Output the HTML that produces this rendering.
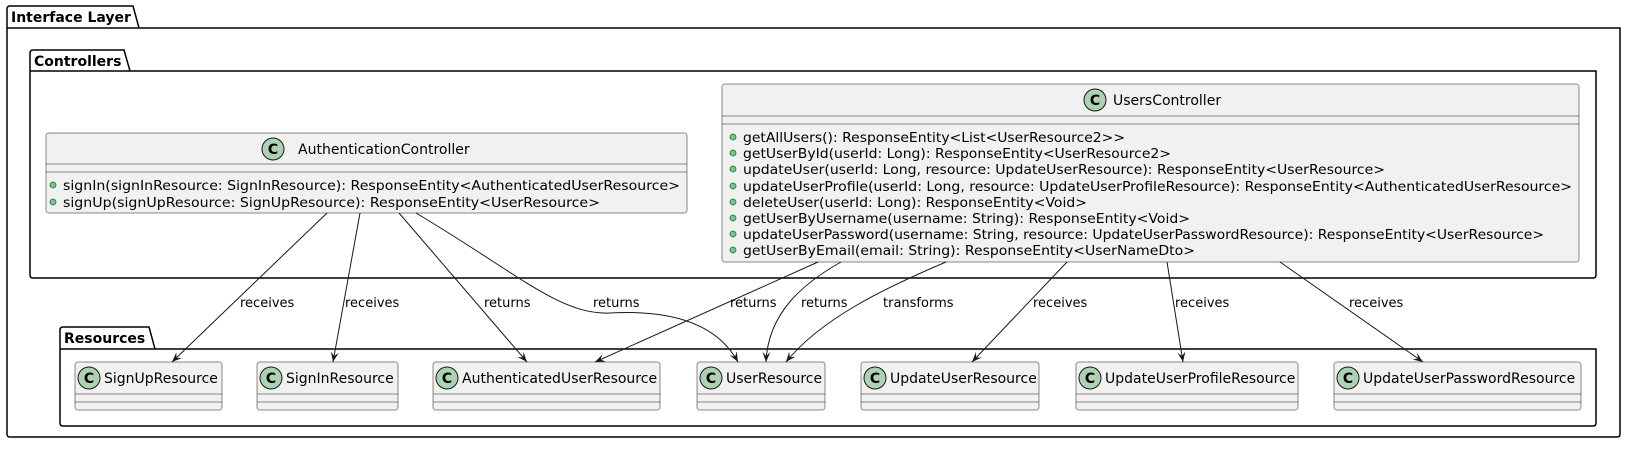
<!DOCTYPE html>
<html><head><meta charset="utf-8"><style>
html,body{margin:0;padding:0;background:#fff;}
svg{display:block;}
text{font-family:"DejaVu Sans","Liberation Sans",sans-serif;fill:#000;}
.t{font-weight:bold;font-size:14px;}
.m{font-size:13.5px;}
.n{font-size:14px;}
.l{font-size:13px;}
.box{fill:#f1f1f1;stroke:#181818;stroke-width:0.5;}
.pk{fill:none;stroke:#000;stroke-width:1.5;}
.ar{fill:none;stroke:#181818;stroke-width:1;}
.ic{fill:#add1b2;stroke:#181818;stroke-width:1;}
.dv{stroke:#181818;stroke-width:0.5;}
.dot{fill:#84be84;stroke:#038048;stroke-width:0.8;}
</style></head><body>
<svg width="1626" height="456" viewBox="0 0 1626 456" xmlns="http://www.w3.org/2000/svg">
<defs>
<marker id="a" viewBox="0 0 10 8" refX="10" refY="4" markerWidth="10" markerHeight="8" markerUnits="userSpaceOnUse" orient="auto">
<path d="M0,0 L10,4 L0,8 L4,4 z" fill="#181818"/>
</marker>
</defs>

<path class="pk" d="M7,28 L7,9 Q7,6 10,6 L133,6 L139,28 L1620,28 L1620,434 Q1620,437 1617,437 L10,437 Q7,437 7,434 Z"/>
<line class="pk" x1="7" y1="28" x2="139" y2="28"/>
<text class="t" x="11" y="22">Interface Layer</text>

<path class="pk" d="M30,71 L30,53 Q30,50 33,50 L124,50 L130,71 L1596,71 L1596,275 Q1596,278 1593,278 L33,278 Q30,278 30,275 Z"/>
<line class="pk" x1="30" y1="71" x2="130" y2="71"/>
<text class="t" x="34" y="66">Controllers</text>

<path class="pk" d="M60,349 L60,330 Q60,327 63,327 L149,327 L155,349 L1596,349 L1596,423 Q1596,426 1593,426 L63,426 Q60,426 60,423 Z"/>
<line class="pk" x1="60" y1="349" x2="155" y2="349"/>
<text class="t" x="64" y="343">Resources</text>

<rect class="box" x="46" y="133" width="641" height="80" rx="2.5"/>
<line class="dv" x1="46" y1="164" x2="687" y2="164"/>
<line class="dv" x1="46" y1="172" x2="687" y2="172"/>
<circle class="ic" cx="273" cy="149" r="11"/>
<text x="273" y="154" text-anchor="middle" style="font-weight:bold;font-size:14px">C</text>
<text class="n" x="298" y="154">AuthenticationController</text>
<circle class="dot" cx="53" cy="185" r="3"/>
<text class="m" x="63" y="190" textLength="617" lengthAdjust="spacingAndGlyphs">signIn(signInResource: SignInResource): ResponseEntity&lt;AuthenticatedUserResource&gt;</text>
<circle class="dot" cx="53" cy="202" r="3"/>
<text class="m" x="63" y="207" textLength="537" lengthAdjust="spacingAndGlyphs">signUp(signUpResource: SignUpResource): ResponseEntity&lt;UserResource&gt;</text>

<rect class="box" x="722" y="84" width="857" height="178" rx="2.5"/>
<line class="dv" x1="722" y1="116" x2="1579" y2="116"/>
<line class="dv" x1="722" y1="124" x2="1579" y2="124"/>
<circle class="ic" cx="1095" cy="100" r="11"/>
<text x="1095" y="105" text-anchor="middle" style="font-weight:bold;font-size:14px">C</text>
<text class="n" x="1113" y="105">UsersController</text>
<g>
<circle class="dot" cx="733" cy="137" r="3"/>
<text class="m" x="743" y="142" textLength="382" lengthAdjust="spacingAndGlyphs">getAllUsers(): ResponseEntity&lt;List&lt;UserResource2&gt;&gt;</text>
<circle class="dot" cx="733" cy="153" r="3"/>
<text class="m" x="743" y="158" textLength="428" lengthAdjust="spacingAndGlyphs">getUserById(userId: Long): ResponseEntity&lt;UserResource2&gt;</text>
<circle class="dot" cx="733" cy="169" r="3"/>
<text class="m" x="743" y="174" textLength="642" lengthAdjust="spacingAndGlyphs">updateUser(userId: Long, resource: UpdateUserResource): ResponseEntity&lt;UserResource&gt;</text>
<circle class="dot" cx="733" cy="186" r="3"/>
<text class="m" x="743" y="191" textLength="829" lengthAdjust="spacingAndGlyphs">updateUserProfile(userId: Long, resource: UpdateUserProfileResource): ResponseEntity&lt;AuthenticatedUserResource&gt;</text>
<circle class="dot" cx="733" cy="202" r="3"/>
<text class="m" x="743" y="207" textLength="344" lengthAdjust="spacingAndGlyphs">deleteUser(userId: Long): ResponseEntity&lt;Void&gt;</text>
<circle class="dot" cx="733" cy="218" r="3"/>
<text class="m" x="743" y="223" textLength="447" lengthAdjust="spacingAndGlyphs">getUserByUsername(username: String): ResponseEntity&lt;Void&gt;</text>
<circle class="dot" cx="733" cy="234" r="3"/>
<text class="m" x="743" y="239" textLength="801" lengthAdjust="spacingAndGlyphs">updateUserPassword(username: String, resource: UpdateUserPasswordResource): ResponseEntity&lt;UserResource&gt;</text>
<circle class="dot" cx="733" cy="250" r="3"/>
<text class="m" x="743" y="255" textLength="452" lengthAdjust="spacingAndGlyphs">getUserByEmail(email: String): ResponseEntity&lt;UserNameDto&gt;</text>
</g>

<g>
<rect class="box" x="75" y="362" width="147" height="48" rx="2.5"/><line class="dv" x1="75" y1="394" x2="222" y2="394"/><line class="dv" x1="75" y1="402" x2="222" y2="402"/>
<circle class="ic" cx="89" cy="378" r="11"/><text x="89" y="383" text-anchor="middle" style="font-weight:bold;font-size:14px">C</text>
<text class="n" x="104" y="383">SignUpResource</text>

<rect class="box" x="257" y="362" width="141" height="48" rx="2.5"/><line class="dv" x1="257" y1="394" x2="398" y2="394"/><line class="dv" x1="257" y1="402" x2="398" y2="402"/>
<circle class="ic" cx="271" cy="378" r="11"/><text x="271" y="383" text-anchor="middle" style="font-weight:bold;font-size:14px">C</text>
<text class="n" x="286" y="383">SignInResource</text>

<rect class="box" x="433" y="362" width="227" height="48" rx="2.5"/><line class="dv" x1="433" y1="394" x2="660" y2="394"/><line class="dv" x1="433" y1="402" x2="660" y2="402"/>
<circle class="ic" cx="447" cy="378" r="11"/><text x="447" y="383" text-anchor="middle" style="font-weight:bold;font-size:14px">C</text>
<text class="n" x="462" y="383">AuthenticatedUserResource</text>

<rect class="box" x="697" y="362" width="128" height="48" rx="2.5"/><line class="dv" x1="697" y1="394" x2="825" y2="394"/><line class="dv" x1="697" y1="402" x2="825" y2="402"/>
<circle class="ic" cx="711" cy="378" r="11"/><text x="711" y="383" text-anchor="middle" style="font-weight:bold;font-size:14px">C</text>
<text class="n" x="726" y="383">UserResource</text>

<rect class="box" x="861" y="362" width="178" height="48" rx="2.5"/><line class="dv" x1="861" y1="394" x2="1039" y2="394"/><line class="dv" x1="861" y1="402" x2="1039" y2="402"/>
<circle class="ic" cx="875" cy="378" r="11"/><text x="875" y="383" text-anchor="middle" style="font-weight:bold;font-size:14px">C</text>
<text class="n" x="890" y="383">UpdateUserResource</text>

<rect class="box" x="1076" y="362" width="222" height="48" rx="2.5"/><line class="dv" x1="1076" y1="394" x2="1298" y2="394"/><line class="dv" x1="1076" y1="402" x2="1298" y2="402"/>
<circle class="ic" cx="1090" cy="378" r="11"/><text x="1090" y="383" text-anchor="middle" style="font-weight:bold;font-size:14px">C</text>
<text class="n" x="1105" y="383">UpdateUserProfileResource</text>

<rect class="box" x="1334" y="362" width="247" height="48" rx="2.5"/><line class="dv" x1="1334" y1="394" x2="1581" y2="394"/><line class="dv" x1="1334" y1="402" x2="1581" y2="402"/>
<circle class="ic" cx="1348" cy="378" r="11"/><text x="1348" y="383" text-anchor="middle" style="font-weight:bold;font-size:14px">C</text>
<text class="n" x="1363" y="383">UpdateUserPasswordResource</text>
</g>

<g marker-end="url(#a)">
<path class="ar" d="M327,213 L172,362"/>
<path class="ar" d="M360,213 L333,362"/>
<path class="ar" d="M399,213 L527,362"/>
<path class="ar" d="M416,213 C520,275 560,315 610,313 C665,310 715,320 738,362"/>
<path class="ar" d="M818,262 L595,362"/>
<path class="ar" d="M841,262 C800,285 768,315 766,362"/>
<path class="ar" d="M946,262 C880,290 820,320 786,362"/>
<path class="ar" d="M1067,262 L972,362"/>
<path class="ar" d="M1167,262 L1183,362"/>
<path class="ar" d="M1280,262 L1423,362"/>
</g>

<text class="l" x="240" y="307">receives</text>
<text class="l" x="345" y="307">receives</text>
<text class="l" x="484" y="307">returns</text>
<text class="l" x="593" y="307">returns</text>
<text class="l" x="730" y="307">returns</text>
<text class="l" x="801" y="307">returns</text>
<text class="l" x="883" y="307">transforms</text>
<text class="l" x="1033" y="307">receives</text>
<text class="l" x="1175" y="307">receives</text>
<text class="l" x="1349" y="307">receives</text>
</svg>
</body></html>
